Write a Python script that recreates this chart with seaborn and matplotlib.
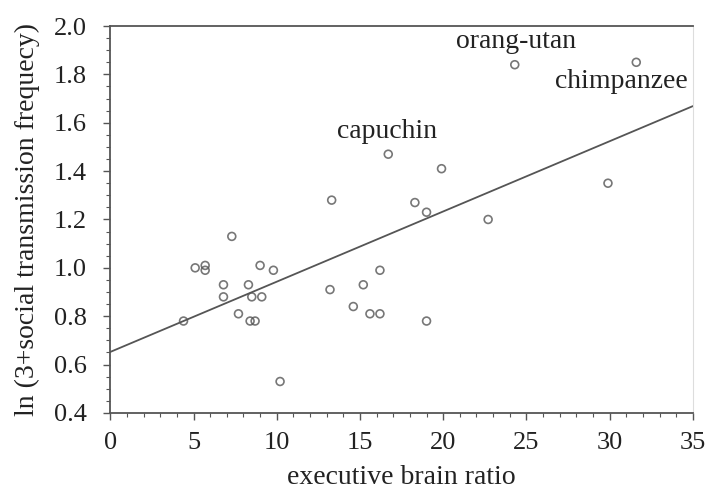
# Social transmission frequency vs executive brain ratio

import numpy as np
import pandas as pd
import matplotlib
matplotlib.use("Agg")
import matplotlib.pyplot as plt
from matplotlib.ticker import MultipleLocator
import seaborn as sns

# values
brain_ratio = [4.4, 5.1, 5.7, 5.7, 7.3, 6.8, 6.8, 7.7, 8.3, 8.5, 9.1, 9.0, 9.8,
               8.4, 8.7, 10.2, 13.3, 13.2, 16.7, 14.6, 15.2, 15.6, 16.2, 16.2,
               19.9, 18.3, 19.0, 22.7, 29.9, 24.3, 31.6, 19.0]
ln_transmission = [0.78, 1.00, 1.01, 0.99, 1.13, 0.93, 0.88, 0.81, 0.93, 0.88,
                   0.88, 1.01, 0.99, 0.78, 0.78, 0.53, 1.28, 0.91, 1.47, 0.84,
                   0.93, 0.81, 0.81, 0.99, 1.41, 1.27, 1.23, 1.20, 1.35, 1.84,
                   1.85, 0.78]
labels = ["orang-utan", "chimpanzee", "capuchin"]
label_pos = [(24.4, 1.935), (30.7, 1.77), (16.6, 1.565)]

df = pd.DataFrame({"ratio": brain_ratio, "lnfreq": ln_transmission})

sns.set_style("ticks")
plt.rcParams["font.family"] = ["Liberation Serif", "DejaVu Serif"]

fig = plt.figure(figsize=(7.07, 4.91), dpi=100)
ax = fig.add_axes([0.156, 0.159, 0.824, 0.788])
ax.set_xlim(0, 35)
ax.set_ylim(0.4, 2.0)

sns.regplot(data=df, x="ratio", y="lnfreq", ax=ax, ci=None, truncate=False,
            scatter_kws=dict(s=32, facecolors="none", edgecolors="#555555",
                             linewidths=1.2),
            line_kws=dict(color="#555555", lw=1.3))

for lab, (lx, ly) in zip(labels, label_pos):
    ax.text(lx, ly, lab, ha="center", va="center", fontsize=20, color="#222222")

ax.set_xlim(0, 35)
ax.set_ylim(0.4, 2.0)
ax.xaxis.set_major_locator(MultipleLocator(5))
ax.xaxis.set_minor_locator(MultipleLocator(1))
ax.yaxis.set_major_locator(MultipleLocator(0.2))
ax.yaxis.set_minor_locator(MultipleLocator(0.05))
ax.yaxis.set_major_formatter(matplotlib.ticker.FormatStrFormatter("%.1f"))
ax.tick_params(which="major", length=5, width=1, color="#555555",
               labelsize=19, labelcolor="#222222")
ax.tick_params(axis="x", which="major", pad=9)
ax.tick_params(axis="y", which="major", pad=12)
ax.tick_params(which="minor", length=3, width=0.8, color="#555555")

for side in ["left", "bottom", "top"]:
    ax.spines[side].set_color("#555555")
    ax.spines[side].set_linewidth(1.3)
ax.spines["right"].set_visible(True)
ax.spines["right"].set_color("#dddddd")

ax.set_xlabel("executive brain ratio", fontsize=20, color="#222222", labelpad=8)
ax.set_ylabel("ln (3+social transmission frequecy)", fontsize=20,
              color="#222222", labelpad=10)

fig.savefig("out.png", dpi=100)
